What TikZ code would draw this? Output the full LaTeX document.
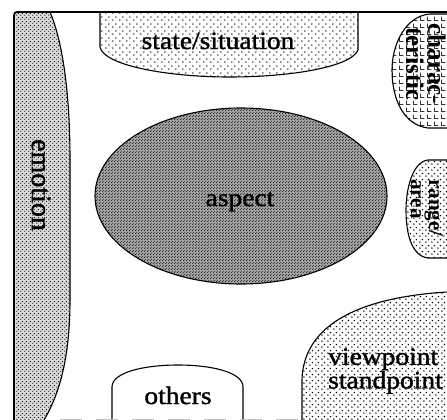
\documentclass[tikz,border=0pt]{standalone}
\usepackage{fontspec}
\setmainfont{Liberation Serif}[FakeStretch=1.1, FakeBold=1.3]
\newfontfamily\rotfont{Liberation Serif}[FakeBold=1.3]
\newfontfamily\rotboldfont{Liberation Serif Bold}
\usetikzlibrary{patterns}

\pgfdeclarepatternformonly{sparsedots}{\pgfqpoint{0pt}{0pt}}{\pgfqpoint{7pt}{7pt}}{\pgfqpoint{7pt}{7pt}}{%
  \pgfpathcircle{\pgfqpoint{1pt}{1pt}}{0.85pt}%
  \pgfpathcircle{\pgfqpoint{4.5pt}{4.5pt}}{0.85pt}%
  \pgfusepath{fill}}
\pgfdeclarepatternformonly{meddots}{\pgfqpoint{0pt}{0pt}}{\pgfqpoint{5.5pt}{5.5pt}}{\pgfqpoint{5.5pt}{5.5pt}}{%
  \pgfpathcircle{\pgfqpoint{1pt}{1pt}}{0.85pt}%
  \pgfpathcircle{\pgfqpoint{3.75pt}{3.75pt}}{0.85pt}%
  \pgfusepath{fill}}
\pgfdeclarepatternformonly{stipple}{\pgfqpoint{0pt}{0pt}}{\pgfqpoint{4pt}{4pt}}{\pgfqpoint{4pt}{4pt}}{%
  \pgfpathcircle{\pgfqpoint{1pt}{1pt}}{0.75pt}%
  \pgfpathcircle{\pgfqpoint{3pt}{3pt}}{0.75pt}%
  \pgfusepath{fill}}
\pgfdeclarepatternformonly{densestipple}{\pgfqpoint{0pt}{0pt}}{\pgfqpoint{3pt}{3pt}}{\pgfqpoint{3pt}{3pt}}{%
  \pgfpathcircle{\pgfqpoint{0.75pt}{0.75pt}}{0.6pt}%
  \pgfpathcircle{\pgfqpoint{2.25pt}{2.25pt}}{0.6pt}%
  \pgfusepath{fill}}
\pgfdeclarepatternformonly{gridpat}{\pgfqpoint{0pt}{0pt}}{\pgfqpoint{7pt}{7pt}}{\pgfqpoint{7pt}{7pt}}{%
  \pgfsetlinewidth{0.7pt}%
  \pgfpathmoveto{\pgfqpoint{0pt}{0.5pt}}\pgfpathlineto{\pgfqpoint{5pt}{0.5pt}}%
  \pgfpathmoveto{\pgfqpoint{0.5pt}{0pt}}\pgfpathlineto{\pgfqpoint{0.5pt}{5pt}}%
  \pgfusepath{stroke}}

\newcommand\lblfont{\fontsize{25}{19}\selectfont}
\newcommand\rotlblfont{\rotboldfont\fontsize{25}{22}\selectfont}
\newcommand\smallrotfont{\rotboldfont\fontsize{21}{18}\selectfont}

\tikzset{
  outline/.style={line width=1.1pt, line join=round},
  lbl/.style={inner sep=0pt, font=\lblfont},
  rotlbl/.style={inner sep=0pt, rotate=-90, align=center},
  sparsefill/.style={pattern=sparsedots, pattern color=black},
  medfill/.style={pattern=meddots, pattern color=black},
  emofill/.style={preaction={fill=black!14}, pattern=stipple, pattern color=black},
  aspectfill/.style={preaction={fill=black!36}, pattern=densestipple, pattern color=black},
  gridfill/.style={pattern=gridpat, pattern color=black!80},
}

\begin{document}
\begin{tikzpicture}[x=1pt, y=-1pt]
\useasboundingbox (0,0) rectangle (447,420);
\fill[white] (0,0) rectangle (447,420);

% emotion
\fill[emofill] (14,12) -- (50,12) .. controls (62,40) and (70,90) .. (70,160)
  -- (70,300) .. controls (70,350) and (62,390) .. (44,420) -- (14,420) -- cycle;
\draw[outline] (50,12) .. controls (62,40) and (70,90) .. (70,160)
  -- (70,300) .. controls (70,350) and (62,390) .. (44,420);
\node[rotlbl, font=\rotfont\fontsize{28}{22}\selectfont] (emotion) at (41,185) {emotion};

% state/situation
\path[sparsefill] (100,12) -- (100,47) .. controls (104,66) and (170,77) .. (229,77)
  .. controls (295,77) and (352,66) .. (358,50) -- (358,12) -- cycle;
\draw[outline] (100,12) -- (100,47) .. controls (104,66) and (170,77) .. (229,77)
  .. controls (295,77) and (352,66) .. (358,50) -- (358,12);
\node[lbl, anchor=base] (state) at (218,49) {state/situation};

% charac-teristic
\path[fill=white] (447,14) -- (430,14) .. controls (405,16) and (392,45) .. (392,70)
  .. controls (392,100) and (404,125) .. (428,128) -- (447,128) -- cycle;
\path[gridfill] (447,14) -- (430,14) .. controls (405,16) and (392,45) .. (392,70)
  .. controls (392,100) and (404,125) .. (428,128) -- (447,128) -- cycle;
\draw[outline] (447,14) -- (430,14) .. controls (405,16) and (392,45) .. (392,70)
  .. controls (392,100) and (404,125) .. (428,128) -- (447,128);
\node[rotlbl, font=\rotlblfont] (charac) at (426,64) {charac-\\teristic};

% aspect
\draw[outline, aspectfill] (241,196) ellipse (146 and 88);
\node[lbl, anchor=base] (aspect) at (240,206) {aspect};

% range/area
\path[medfill] (447,160) -- (428,160) .. controls (412,162) and (406,190) .. (406,210)
  .. controls (406,235) and (412,256) .. (428,258) -- (447,258) -- cycle;
\draw[outline] (447,160) -- (428,160) .. controls (412,162) and (406,190) .. (406,210)
  .. controls (406,235) and (412,256) .. (428,258) -- (447,258);
\node[rotlbl, font=\smallrotfont, align=left] (range) at (427,208) {range/\\area};

% viewpoint/standpoint
\path[medfill] (302,420) -- (302,380) .. controls (303,330) and (350,298) .. (447,292)
  -- (447,420) -- cycle;
\draw[outline] (302,420) -- (302,380) .. controls (303,330) and (350,298) .. (447,292);
\node[lbl, anchor=west, align=left] (viewpoint) at (328,371) {viewpoint\\standpoint};

% others
\draw[outline, fill=white] (112,420) -- (112,387) .. controls (112,372) and (145,365) .. (178,365)
  .. controls (211,365) and (243,372) .. (243,387) -- (243,420);
\node[lbl, anchor=base] (others) at (178,404) {others};

% frame
\draw[line width=1.7pt, rounded corners=3pt] (447,12) -- (14,12) -- (14,420);
\draw[black!25, line width=0.6pt, dash pattern=on 22pt off 14pt] (60,419.7) -- (300,419.7);
\end{tikzpicture}
\end{document}
